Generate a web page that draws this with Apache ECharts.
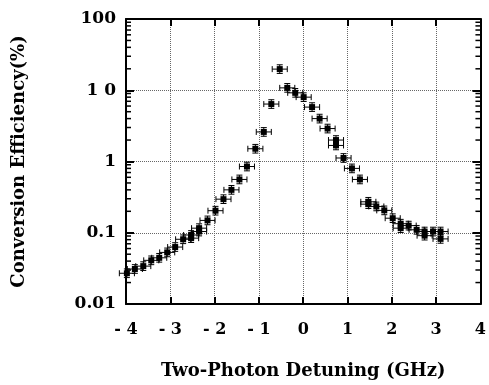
<!DOCTYPE html>
<html>
<head>
<meta charset="utf-8">
<script src="https://cdn.jsdelivr.net/npm/echarts@6/dist/echarts.min.js"></script>
<style>
  html, body { margin: 0; padding: 0; background: #fff; }
  #main { width: 489px; height: 385px; }
</style>
</head>
<body>
<div id="main"></div>
<script>
  // values
  var detuning = [-3.98, -3.80, -3.61, -3.43, -3.25, -3.07, -2.89, -2.71, -2.53, -2.53,
    -2.35, -2.35, -2.16, -1.98, -1.80, -1.62, -1.44, -1.27, -1.08, -0.89,
    -0.72, -0.53, -0.36, -0.18, 0.01, 0.20, 0.37, 0.55, 0.74, 0.74,
    0.91, 1.10, 1.28, 1.47, 1.47, 1.65, 1.83, 2.02, 2.20, 2.20,
    2.38, 2.56, 2.74, 2.74, 2.93, 3.10, 3.10]
  var efficiency = [0.027, 0.031, 0.034, 0.041, 0.0445, 0.053, 0.063, 0.081, 0.084, 0.093,
    0.104, 0.116, 0.149, 0.204, 0.296, 0.40, 0.56, 0.85, 1.51, 2.6,
    6.4, 19.8, 10.8, 9.2, 8.0, 5.8, 4.0, 2.9, 2.0, 1.68,
    1.12, 0.80, 0.56, 0.272, 0.252, 0.234, 0.206, 0.160, 0.134, 0.116,
    0.126, 0.110, 0.104, 0.091, 0.104, 0.104, 0.082]
  var xErr = 0.17      // GHz, half width of horizontal bars
  var yErrRel = 0.15   // relative half height of vertical bars

  var xTickLabels = ['- 4', '- 3', '- 2', '- 1', '0', '1', '2', '3', '4']
  var yTickLabels = ['0.01', '0.1', '1', '1 0', '100']
  var minorTicks = []
  for (var e = -2; e < 2; e++) {
    for (var k = 2; k <= 9; k++) {
      minorTicks.push(k * Math.pow(10, e))
    }
  }

  var font = 'DejaVu Serif'

  var pts = []
  for (var i = 0; i < detuning.length; i++) {
    pts.push([detuning[i], efficiency[i]])
  }

  function errItem(params, api) {
    var x = api.value(0), y = api.value(1)
    var c = api.coord([x, y])
    var l = api.coord([x - xErr, y])
    var r = api.coord([x + xErr, y])
    var t = api.coord([x, y * (1 + yErrRel)])
    var b = api.coord([x, y / (1 + yErrRel)])
    var st = { stroke: '#000', lineWidth: 1 }
    var cap = 3
    var kids = [
      { type: 'line', shape: { x1: l[0], y1: l[1], x2: r[0], y2: r[1] }, style: st },
      { type: 'line', shape: { x1: l[0], y1: l[1] - cap, x2: l[0], y2: l[1] + cap }, style: st },
      { type: 'line', shape: { x1: r[0], y1: r[1] - cap, x2: r[0], y2: r[1] + cap }, style: st },
      { type: 'line', shape: { x1: t[0], y1: t[1], x2: b[0], y2: b[1] }, style: st },
      { type: 'line', shape: { x1: t[0] - cap, y1: t[1], x2: t[0] + cap, y2: t[1] }, style: st },
      { type: 'line', shape: { x1: b[0] - cap, y1: b[1], x2: b[0] + cap, y2: b[1] }, style: st },
      { type: 'rect', shape: { x: c[0] - 3, y: c[1] - 3, width: 6, height: 6 }, style: { fill: '#000' } }
    ]
    // log minor ticks on the left and right frame, drawn once with the first point
    if (params.dataIndex === 0) {
      var ts = { stroke: '#000', lineWidth: 1.5 }
      minorTicks.forEach(function (v) {
        var a = api.coord([-4, v])
        var z = api.coord([4, v])
        kids.push({ type: 'line', shape: { x1: a[0], y1: a[1], x2: a[0] + 5, y2: a[1] }, style: ts })
        kids.push({ type: 'line', shape: { x1: z[0], y1: z[1], x2: z[0] - 5, y2: z[1] }, style: ts })
      })
    }
    return { type: 'group', children: kids }
  }

  var chart = echarts.init(document.getElementById('main'))
  var frame = { show: true, onZero: false, lineStyle: { color: '#000', width: 2 } }
  var option = {
    animation: false,
    grid: { left: 126, right: 7, top: 19, bottom: 79, containLabel: false },
    xAxis: [{
      type: 'value', min: -4, max: 4, interval: 1,
      name: 'Two-Photon Detuning (GHz)', nameLocation: 'middle', nameGap: 58,
      nameTextStyle: { fontFamily: font, fontWeight: 'bold', fontSize: 18, color: '#000' },
      axisLine: frame,
      axisTick: { inside: true, length: 7, lineStyle: { color: '#000', width: 2 } },
      axisLabel: {
        margin: 18, fontFamily: font, fontWeight: 'bold', fontSize: 16, color: '#000',
        formatter: function (v) { return xTickLabels[Math.round(v) + 4] }
      },
      splitLine: { show: true, lineStyle: { type: 'dotted', color: '#666', width: 1 } }
    }, {
      type: 'value', min: -4, max: 4, interval: 1, position: 'top',
      axisLine: frame,
      axisTick: { inside: true, length: 7, lineStyle: { color: '#000', width: 2 } },
      axisLabel: { show: false },
      splitLine: { show: false }
    }],
    yAxis: [{
      type: 'log', logBase: 10, min: 0.01, max: 100,
      name: 'Conversion Efficiency(%)', nameLocation: 'middle', nameGap: 98,
      nameTextStyle: { fontFamily: font, fontWeight: 'bold', fontSize: 18, color: '#000' },
      axisLine: frame,
      axisTick: { inside: true, length: 8, lineStyle: { color: '#000', width: 2 } },
      axisLabel: {
        margin: 10, fontFamily: font, fontWeight: 'bold', fontSize: 17, color: '#000',
        formatter: function (v) { return yTickLabels[Math.round(Math.log10(v)) + 2] }
      },
      splitLine: { show: true, lineStyle: { type: 'dotted', color: '#666', width: 1 } }
    }, {
      type: 'log', logBase: 10, min: 0.01, max: 100, position: 'right',
      axisLine: frame,
      axisTick: { inside: true, length: 8, lineStyle: { color: '#000', width: 2 } },
      axisLabel: { show: false },
      splitLine: { show: false }
    }],
    series: [{
      type: 'custom',
      renderItem: errItem,
      data: pts,
      encode: { x: 0, y: 1 },
      clip: false,
      z: 3
    }]
  }
  chart.setOption(option)
</script>
</body>
</html>
